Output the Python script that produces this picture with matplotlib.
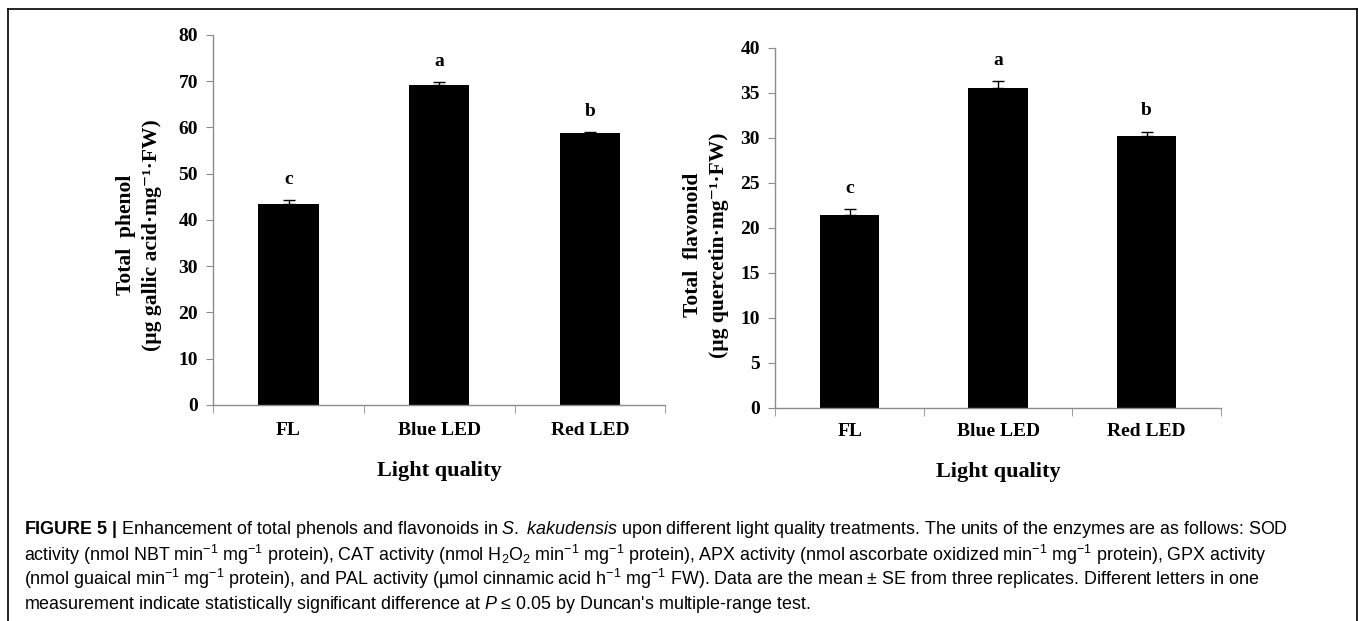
import matplotlib
matplotlib.use('Agg')
import numpy as np
from matplotlib import pyplot as plt
from matplotlib.lines import Line2D

# ------------------- data -------------------
treatments = ['FL', 'Blue LED', 'Red LED']
phenol = [43.5, 69.2, 58.8]
phenol_se = [0.7, 0.6, 0.2]
phenol_letters = ['c', 'a', 'b']
flavonoid = [21.4, 35.5, 30.2]
flavonoid_se = [0.7, 0.8, 0.5]
flavonoid_letters = ['c', 'a', 'b']

caption_lines = [
    r"$\mathbf{FIGURE\ 5\ |}$ Enhancement of total phenols and flavonoids in $\mathit{S.\ kakudensis}$ upon different light quality treatments. The units of the enzymes are as follows: SOD",
    r"activity (nmol NBT min$^{-1}$ mg$^{-1}$ protein), CAT activity (nmol H$_2$O$_2$ min$^{-1}$ mg$^{-1}$ protein), APX activity (nmol ascorbate oxidized min$^{-1}$ mg$^{-1}$ protein), GPX activity",
    r"(nmol guaical min$^{-1}$ mg$^{-1}$ protein), and PAL activity (µmol cinnamic acid h$^{-1}$ mg$^{-1}$ FW). Data are the mean ± SE from three replicates. Different letters in one",
    r"measurement indicate statistically significant difference at $\mathit{P}$ ≤ 0.05 by Duncan's multiple-range test.",
]

# ------------------- fonts -------------------
cap_font = 'Liberation Sans'
plt.rcParams['mathtext.fontset'] = 'custom'
plt.rcParams['mathtext.rm'] = cap_font
plt.rcParams['mathtext.it'] = cap_font + ':italic'
plt.rcParams['mathtext.bf'] = cap_font + ':bold'
serif = ['Liberation Serif', 'DejaVu Serif']
grey = '#8c8c8c'

W, H = 1358, 621
fig = plt.figure(figsize=(W / 100, H / 100), dpi=100)


def panel(rect, values, se, letters, ymax, ystep, ylabel, label_xy, xpad):
    ax = fig.add_axes(rect)
    x = np.arange(len(treatments))
    ax.bar(x, values, width=0.4, color='black', zorder=2)
    ax.errorbar(x, values, yerr=[np.zeros(len(se)), se], fmt='none',
                ecolor='black', elinewidth=1, capsize=4, capthick=1, zorder=3)
    for xi, v, e, l in zip(x, values, se, letters):
        ax.annotate(l, (xi, v + e), xytext=(0, 15), textcoords='offset points',
                    ha='center', va='center', fontsize=14, fontweight='bold', family=serif)
    ax.set_xlim(-0.5, len(treatments) - 0.5)
    ax.set_ylim(0, ymax)
    ax.set_yticks(np.arange(0, ymax + 0.1, ystep))
    ax.set_xticks(x)
    ax.set_xticklabels(treatments)
    ax.set_xticks(np.arange(-0.5, len(treatments)), minor=True)
    for s in ['top', 'right']:
        ax.spines[s].set_visible(False)
    for s in ['left', 'bottom']:
        ax.spines[s].set_color(grey)
        ax.spines[s].set_linewidth(1)
    ax.tick_params(axis='x', which='major', length=0, pad=xpad)
    ax.tick_params(axis='x', which='minor', length=6, color=grey, direction='out')
    ax.tick_params(axis='y', length=5, color=grey, direction='out', pad=6)
    for t in ax.get_xticklabels() + ax.get_yticklabels():
        t.set_family(serif)
        t.set_fontweight('bold')
        t.set_fontsize(14)
    fig.text(label_xy[0] / W, 1 - label_xy[1] / H, ylabel, family=serif, fontweight='bold',
             fontsize=15.5, linespacing=1.45, rotation=90, ha='center', va='center',
             multialignment='center')
    ax.set_xlabel('Light quality', family=serif, fontweight='bold', fontsize=16, labelpad=16)
    return ax


panel([0.157, 0.348, 0.333, 0.596], phenol, phenol_se, phenol_letters, 80, 10,
      'Total  phenol\n(µg gallic acid·mg⁻¹·FW)', (139, 235), 12)
panel([0.571, 0.343, 0.328, 0.580], flavonoid, flavonoid_se, flavonoid_letters, 40, 5,
      'Total  flavonoid\n(µg quercetin·mg⁻¹·FW)', (706, 245), 11)

# ------------------- frame + caption -------------------
top = 1 - 9 / H
fig.add_artist(Line2D([0.006, 0.999], [top, top], color='black', lw=1.2))
fig.add_artist(Line2D([0.006, 0.006], [0, top], color='black', lw=1.2))
fig.add_artist(Line2D([0.999, 0.999], [0, top], color='black', lw=1.2))

for i, line in enumerate(caption_lines):
    fig.text(24 / W, 1 - (530 + i * 24.7) / H, line, family=cap_font,
             fontsize=12.9, va='center', ha='left')

fig.savefig('out.png', dpi=100)
